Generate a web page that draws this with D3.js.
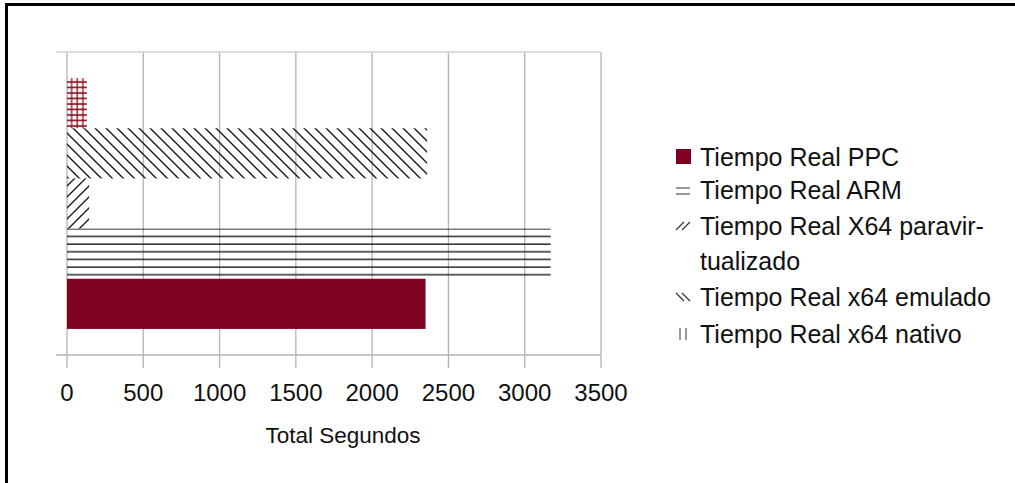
<!DOCTYPE html>
<html>
<head>
<meta charset="utf-8">
<script src="https://cdn.jsdelivr.net/npm/d3@7/dist/d3.min.js"></script>
<style>
  html, body { margin: 0; padding: 0; background: #fff; }
  svg { display: block; font-family: "Liberation Sans", Arial, sans-serif; }
</style>
</head>
<body>
<svg id="chart" width="1015" height="483"></svg>
<script>
// Series, drawn top to bottom
const seriesKeys = ["nativo", "emulado", "paravirt", "arm", "ppc"];
const seriesValues = [130, 2360, 145, 3170, 2350];
const legendLabels = [
  ["Tiempo Real PPC"],
  ["Tiempo Real ARM"],
  ["Tiempo Real X64 paravir-", "tualizado"],
  ["Tiempo Real x64 emulado"],
  ["Tiempo Real x64 nativo"]
];
const legendKeys = ["ppc", "arm", "paravirt", "emulado", "nativo"];
const tickValues = [0, 500, 1000, 1500, 2000, 2500, 3000, 3500];
const axisTitle = "Total Segundos";

const svg = d3.select("#chart");
const plot = { left: 67, right: 601, top: 52, bottom: 355 };

const x = d3.scaleLinear().domain([0, 3500]).range([plot.left, plot.right]);
const y = d3.scaleBand().domain(seriesKeys).range([plot.top, plot.bottom])
  .paddingInner(0).paddingOuter(0.52);

// Hatch patterns
const defs = svg.append("defs");
const dark = "#1a1a1a";

const pArm = defs.append("pattern").attr("id", "p-arm")
  .attr("patternUnits", "userSpaceOnUse").attr("width", 10).attr("height", 7.65)
  .attr("y", 3);
pArm.append("line").attr("x1", 0).attr("x2", 10).attr("y1", 4).attr("y2", 4)
  .attr("stroke", dark).attr("stroke-width", 1.4);

const pPara = defs.append("pattern").attr("id", "p-para")
  .attr("patternUnits", "userSpaceOnUse").attr("width", 11).attr("height", 11);
pPara.append("path").attr("d", "M-1,12 L12,-1 M-3,3 L3,-3 M8,14 L14,8")
  .attr("stroke", dark).attr("stroke-width", 1.4);

const pEmu = defs.append("pattern").attr("id", "p-emu")
  .attr("patternUnits", "userSpaceOnUse").attr("width", 11).attr("height", 11);
pEmu.append("path").attr("d", "M-1,-1 L12,12 M8,-3 L14,3 M-3,8 L3,14")
  .attr("stroke", dark).attr("stroke-width", 1.4);

const pNat = defs.append("pattern").attr("id", "p-nat")
  .attr("patternUnits", "userSpaceOnUse").attr("width", 5.6).attr("height", 5.5)
  .attr("x", 1.5).attr("y", 3);
pNat.append("line").attr("x1", 3).attr("x2", 3).attr("y1", 0).attr("y2", 5.5)
  .attr("stroke", "#a43a48").attr("stroke-width", 1.6);
pNat.append("line").attr("x1", 0).attr("x2", 5.6).attr("y1", 2).attr("y2", 2)
  .attr("stroke", "#8a0b1c").attr("stroke-width", 1.6);

const fills = {
  ppc: "#7f0021",
  arm: "url(#p-arm)",
  paravirt: "url(#p-para)",
  emulado: "url(#p-emu)",
  nativo: "url(#p-nat)"
};

// Outer frame
svg.append("rect").attr("x", 6.5).attr("y", 4.5).attr("width", 1020).attr("height", 490)
  .attr("fill", "none").attr("stroke", "#000").attr("stroke-width", 3);

// Gridlines and tick marks
const grid = "#b3b3b3";
svg.append("g").selectAll("line").data(tickValues).join("line")
  .attr("x1", d => x(d)).attr("x2", d => x(d))
  .attr("y1", plot.top).attr("y2", plot.bottom + 13)
  .attr("stroke", grid).attr("stroke-width", 1.3);

svg.append("line").attr("x1", plot.left - 11).attr("x2", plot.right)
  .attr("y1", plot.top).attr("y2", plot.top)
  .attr("stroke", "#d0d0d0").attr("stroke-width", 1.5);
svg.append("line").attr("x1", plot.left - 11).attr("x2", plot.right)
  .attr("y1", plot.bottom).attr("y2", plot.bottom)
  .attr("stroke", grid).attr("stroke-width", 1.3);

// Bars
svg.append("g").selectAll("rect").data(seriesKeys).join("rect")
  .attr("x", x(0))
  .attr("y", d => y(d))
  .attr("width", (d, i) => x(seriesValues[i]) - x(0))
  .attr("height", y.bandwidth())
  .attr("fill", d => fills[d]);

// Tick labels
svg.append("g").selectAll("text").data(tickValues).join("text")
  .attr("x", d => x(d)).attr("y", 401)
  .attr("text-anchor", "middle")
  .attr("font-size", 24).attr("fill", "#111")
  .text(d => d);

svg.append("text").attr("x", 343).attr("y", 443)
  .attr("text-anchor", "middle").attr("font-size", 22.5).attr("fill", "#111")
  .text(axisTitle);

// Legend
const rowY = [157, 190, 226, 297, 334];
const lg = svg.append("g");
legendKeys.forEach((k, i) => {
  const cy = rowY[i];
  const g = lg.append("g");
  if (k === "ppc") {
    g.append("rect").attr("x", 676).attr("y", cy - 8).attr("width", 15).attr("height", 15)
      .attr("fill", fills.ppc);
  } else if (k === "arm") {
    g.append("path").attr("d", `M676,${cy - 2}H690M676,${cy + 4}H690`)
      .attr("stroke", "#333").attr("stroke-width", 1.2);
  } else if (k === "paravirt") {
    g.append("path").attr("d", `M676,${cy + 4}L684,${cy - 4}M682,${cy + 4}L690,${cy - 4}`)
      .attr("stroke", "#333").attr("stroke-width", 1.2);
  } else if (k === "emulado") {
    g.append("path").attr("d", `M676,${cy - 4}L684,${cy + 4}M682,${cy - 4}L690,${cy + 4}`)
      .attr("stroke", "#333").attr("stroke-width", 1.2);
  } else {
    g.append("path").attr("d", `M680,${cy - 6}V${cy + 6}M686,${cy - 6}V${cy + 6}`)
      .attr("stroke", "#555").attr("stroke-width", 1.2);
  }
  legendLabels[i].forEach((t, j) => {
    g.append("text").attr("x", 700).attr("y", cy + 9 + j * 35)
      .attr("font-size", 25).attr("fill", "#111").text(t);
  });
});
</script>
</body>
</html>
